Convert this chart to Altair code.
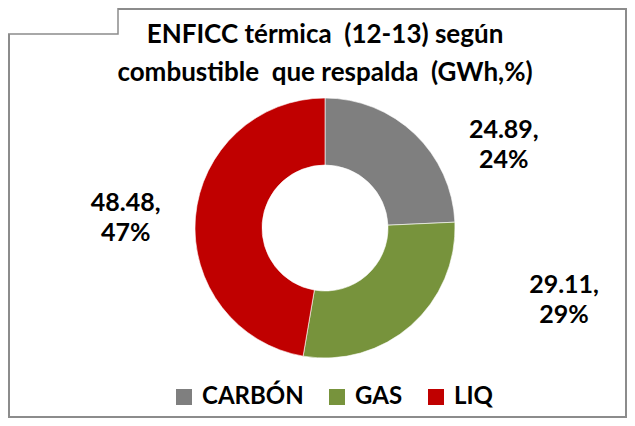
import altair as alt
import pandas as pd

categories = ["CARBÓN", "GAS", "LIQ"]
values = [24.89, 29.11, 48.48]
pct_labels = ["24%", "29%", "47%"]
title_lines = ["ENFICC térmica \u00a0(12-13) según", "combustible \u00a0que respalda \u00a0(GWh,%)"]
colors = ["#7F7F7F", "#77933C", "#C00000"]

df = pd.DataFrame({
    "cat": categories,
    "value": values,
    "pct": pct_labels,
    "order": list(range(len(categories))),
})
df["label"] = [f"{v:.2f},\n{p}" for v, p in zip(values, pct_labels)]

FONT = "Lato"
CX, CY = 316, 219

base = alt.Chart(df).encode(
    theta=alt.Theta("value:Q", stack=True),
    order=alt.Order("order:Q"),
    x=alt.value(CX),
    y=alt.value(CY),
)

color = alt.Color(
    "cat:N",
    scale=alt.Scale(domain=categories, range=colors),
    sort=categories,
    legend=alt.Legend(
        orient="none", legendX=163, legendY=376, direction="horizontal",
        title=None, symbolType="square", symbolSize=256, symbolStrokeWidth=0,
        labelFont=FONT, labelFontWeight="bold", labelFontSize=24, labelColor="black",
        columnPadding=21, labelOffset=6, padding=0,
    ),
)

arc = base.mark_arc(outerRadius=130, innerRadius=63, stroke="white", strokeWidth=0.6).encode(color=color)

offsets = {"CARBÓN": (44, 43), "GAS": (110, -89), "LIQ": (-5, -9)}
layers = [arc]
for cat, (dx, dy) in offsets.items():
    layers.append(
        base.mark_text(
            radius=195, dx=dx, dy=dy, font=FONT, fontWeight="bold", fontSize=25,
            lineBreak="\n", lineHeight=30, align="center", baseline="middle", color="black",
        ).encode(text=alt.condition(alt.datum.cat == cat, alt.Text("label:N"), alt.value("")))
    )

title_df = pd.DataFrame({"t": ["\n".join(title_lines)]})
title = alt.Chart(title_df).mark_text(
    font=FONT, fontWeight="bold", fontSize=26, lineBreak="\n", lineHeight=38,
    align="center", baseline="alphabetic", color="black",
).encode(text="t:N", x=alt.value(316), y=alt.value(34))
layers.append(title)

corner = alt.Chart(pd.DataFrame({"a": [0]})).mark_rect(
    fill="white", stroke="#8c8c8c", strokeWidth=1.5
).encode(x=alt.value(-9), x2=alt.value(109), y=alt.value(-9), y2=alt.value(25))
layers.append(corner)

chart = alt.layer(*layers).properties(
    width=617, height=408,
    padding=1,
    autosize=alt.AutoSizeParams(type="none"),
    background="white",
).configure_view(stroke="#8c8c8c", strokeWidth=2)

chart.save("out.html", embed_options={"renderer": "svg", "actions": False})
